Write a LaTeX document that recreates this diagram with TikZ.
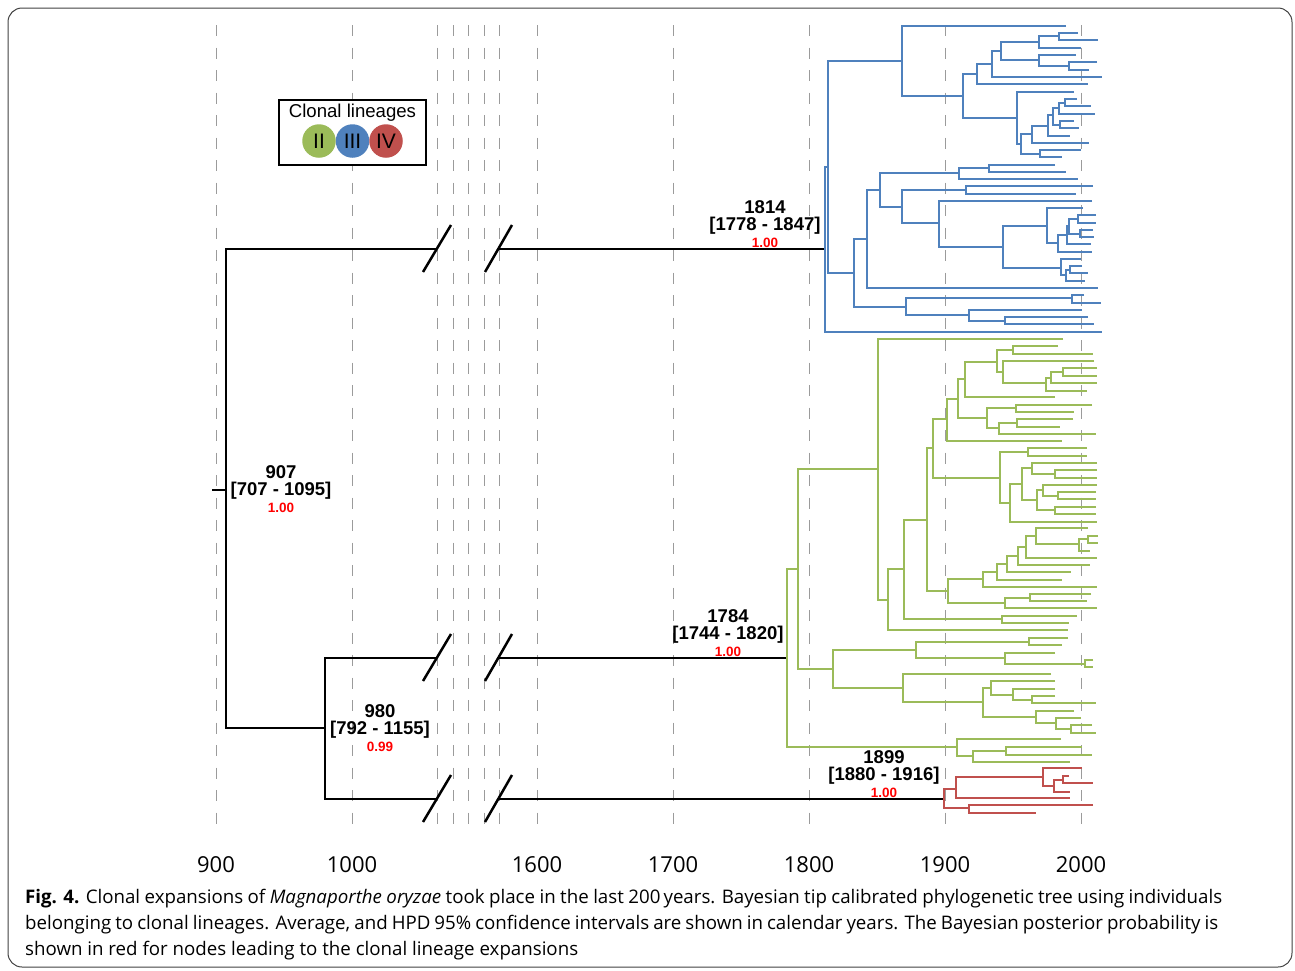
\documentclass[tikz,border=0pt]{standalone}
\usepackage{fontspec}
\setmainfont{Open Sans}
\newfontfamily\treefont{Liberation Sans}

\definecolor{lineageII}{RGB}{155,187,89}
\definecolor{lineageIII}{RGB}{79,129,189}
\definecolor{lineageIV}{RGB}{192,80,77}
\definecolor{gridgray}{RGB}{155,155,155}

% one split of the tree: node x, upper child (y, x), lower child (y, x)
\newcommand{\clade}[5]{\draw (#3,#2) -| (#1,#4) -- (#5,#4);}

\begin{document}
\begin{tikzpicture}[x=1pt, y=-1pt,
  gridline/.style={gridgray, line width=1pt, dash pattern=on 11pt off 11.5pt},
  backbone/.style={line width=2.5pt},
  lineage/.style={line width=2.8pt},
  datelbl/.style={font=\treefont\bfseries\fontsize{18.5}{20}\selectfont, inner sep=0pt},
  problbl/.style={font=\treefont\bfseries\fontsize{13.5}{14}\selectfont, text=red, inner sep=0pt},
  yearlbl/.style={font=\fontsize{22}{24}\selectfont, anchor=base, inner sep=0pt},
  captionline/.style={font=\fontsize{18.7}{20}\selectfont, anchor=base west, inner sep=0pt},
  lincircle/.style={circle, minimum size=33.5pt, inner sep=0pt, font=\treefont\fontsize{21}{22}\selectfont}]

\useasboundingbox (0,0) rectangle (1295,970);

% Frame
\draw[rounded corners=14pt, line width=1pt, black!75] (8,8) rectangle (1292,967);

% Dashed year lines
\foreach \x in {216,352,437,453,468,484,499,537,673,809,945,1081}
  \draw[gridline] (\x,25) -- (\x,824);

% Year labels
\foreach \yr/\x in {900/216,1000/352,1600/537,1700/673,1800/809,1900/945,2000/1081}
  \node[yearlbl] (yr\yr) at (\x,872) {\yr};

% Legend
\node[draw, line width=1.5pt, fill=white, minimum width=147pt, minimum height=65pt, inner sep=0pt] (legend) at (352.5,132.5) {};
\node[font=\treefont\fontsize{18.6}{19}\selectfont, inner sep=0pt] (legendtitle) at (352.5,113) {Clonal lineages};
\node[lincircle, fill=lineageII] (cII) at (319,141) {II};
\node[lincircle, fill=lineageIII] (cIII) at (352.5,141) {III};
\node[lincircle, fill=lineageIV] (cIV) at (386,141) {IV};

% Backbone
\coordinate (n907) at (226,490);
\coordinate (n980) at (325,728);
\draw[backbone] (212,490) -- (n907);
\draw[backbone] (436.5,249) -| (n980 -| n907) -- (n980);
\draw[backbone] (436.5,658) -| (325,799) -- (436.5,799);
\draw[backbone] (498.5,249) -- (825,249);
\draw[backbone] (498.5,658) -- (787,658);
\draw[backbone] (498.5,799) -- (944,799);

% Axis breaks
\foreach \y in {249,658,799} {
  \draw[backbone] ({423},{\y+23}) -- ({451},{\y-24});
  \draw[backbone] ({485},{\y+23}) -- ({512},{\y-24});
}

% Node dates
\node[datelbl] (d907) at (281,472) {907};
\node[datelbl] (h907) at (281,491) {[707 - 1095]};
\node[problbl] (p907) at (281,508) {1.00};
\node[datelbl] (d980) at (380,711) {980};
\node[datelbl] (h980) at (380,730) {[792 - 1155]};
\node[problbl] (p980) at (380,747) {0.99};
\node[datelbl] (d1814) at (765,207) {1814};
\node[datelbl] (h1814) at (765,226) {[1778 - 1847]};
\node[problbl] (p1814) at (765,243) {1.00};
\node[datelbl] (d1784) at (728,616) {1784};
\node[datelbl] (h1784) at (728,635) {[1744 - 1820]};
\node[problbl] (p1784) at (728,652) {1.00};
\node[datelbl] (d1899) at (884,757) {1899};
\node[datelbl] (h1899) at (884,776) {[1880 - 1916]};
\node[problbl] (p1899) at (884,793) {1.00};

% Lineage III
\begin{scope}[lineage, lineageIII]
\clade{825}{167}{828}{332}{1102}
\clade{828}{61}{902}{273}{854}
\clade{902}{26}{1066}{96}{963}
\clade{963}{74}{977}{118}{1017}
\clade{977}{64}{992}{84}{1088}
\clade{992}{51}{1001}{77}{1102}
\clade{1001}{42}{1039}{60}{1039}
\clade{1039}{36}{1059}{48}{1081}
\clade{1059}{33}{1078}{40}{1098}
\clade{1039}{55}{1076}{66}{1069}
\clade{1069}{62}{1097}{70}{1089}
\clade{1017}{92}{1074}{144}{1021}
\clade{1021}{134}{1032}{154}{1040}
\clade{1040}{150}{1081}{157}{1062}
\clade{1032}{126}{1048}{143}{1089}
\clade{1048}{115}{1053}{136}{1070}
\clade{1053}{108}{1059}{125}{1060}
\clade{1059}{103}{1065}{114}{1095}
\clade{1065}{99}{1077}{106}{1091}
\clade{1060}{121}{1074}{128}{1079}
\clade{854}{239}{867}{307}{906}
\clade{867}{190}{880}{288}{1098}
\clade{880}{173}{959}{207}{902}
\clade{959}{168}{989}{179}{1078}
\clade{989}{165}{1055}{172}{1066}
\clade{902}{190}{966}{223}{939}
\clade{966}{186}{1093}{194}{1076}
\clade{939}{201}{1092}{247}{1003}
\clade{1003}{226}{1047}{268}{1061}
\clade{1047}{208}{1083}{243}{1058}
\clade{1058}{235}{1067}{252}{1092}
\clade{1067}{226}{1069}{244}{1091}
\clade{1069}{219}{1078}{234}{1080}
\clade{1078}{215}{1096}{223}{1096}
\clade{1080}{230}{1093}{237}{1094}
\clade{1061}{259}{1081}{275}{1066}
\clade{1066}{270}{1070}{281}{1085}
\clade{1070}{266}{1082}{273}{1088}
\clade{906}{298}{1072}{315}{969}
\clade{1072}{295}{1084}{303}{1101}
\clade{969}{310}{1082}{321}{1005}
\clade{1005}{317}{1088}{324}{1094}
\end{scope}

% Lineage II
\begin{scope}[lineage, lineageII]
\clade{787}{569}{798}{747}{957}
\clade{798}{469}{878}{669}{833}
\clade{878}{339}{1063}{600}{888}
\clade{888}{569}{904}{630}{1068}
\clade{904}{520}{927}{619}{1002}
\clade{1002}{616}{1077}{623}{1069}
\clade{927}{448}{933}{591}{948}
\clade{933}{419}{947}{478}{1000}
\clade{947}{399}{958}{441}{1062}
\clade{958}{379}{965}{418}{987}
\clade{965}{362}{997}{397}{1055}
\clade{997}{350}{1013}{372}{1003}
\clade{1013}{346}{1058}{354}{1093}
\clade{1003}{361}{1094}{383}{1046}
\clade{1046}{378}{1051}{391}{1087}
\clade{1051}{372}{1063}{383}{1097}
\clade{1063}{368}{1097}{376}{1097}
\clade{987}{408}{1016}{428}{999}
\clade{1016}{405}{1092}{412}{1074}
\clade{999}{423}{1017}{434}{1096}
\clade{1017}{419}{1073}{427}{1060}
\clade{1000}{452}{1028}{503}{1010}
\clade{1028}{448}{1087}{456}{1087}
\clade{1010}{484}{1022}{522}{1097}
\clade{1022}{468}{1032}{500}{1037}
\clade{1032}{463}{1097}{474}{1055}
\clade{1055}{470}{1097}{478}{1097}
\clade{1037}{490}{1043}{510}{1055}
\clade{1043}{485}{1097}{496}{1058}
\clade{1058}{492}{1096}{499}{1096}
\clade{1055}{507}{1096}{514}{1096}
\clade{948}{579}{983}{603}{1005}
\clade{983}{572}{997}{587}{1097}
\clade{997}{564}{1007}{580}{1062}
\clade{1007}{556}{1018}{572}{1071}
\clade{1018}{547}{1026}{565}{1090}
\clade{1026}{536}{1036}{558}{1097}
\clade{1036}{528}{1088}{544}{1079}
\clade{1079}{539}{1088}{551}{1090}
\clade{1088}{536}{1098}{543}{1098}
\clade{1005}{598}{1030}{608}{1097}
\clade{1030}{594}{1091}{601}{1087}
\clade{833}{650}{916}{688}{903}
\clade{916}{642}{1029}{658}{1005}
\clade{1029}{638}{1068}{645}{1062}
\clade{1005}{653}{1055}{664}{1085}
\clade{1085}{660}{1093}{667}{1093}
\clade{903}{674}{1051}{702}{983}
\clade{983}{688}{991}{717}{1036}
\clade{991}{681}{1055}{695}{1013}
\clade{1013}{689}{1055}{700}{1032}
\clade{1032}{696}{1055}{703}{1096}
\clade{1036}{711}{1074}{723}{1056}
\clade{1056}{718}{1081}{729}{1071}
\clade{1071}{725}{1092}{733}{1096}
\clade{957}{739}{1061}{756}{973}
\clade{973}{751}{1006}{762}{1070}
\clade{1006}{747}{1082}{755}{1092}
\end{scope}

% Lineage IV
\begin{scope}[lineage, lineageIV]
\clade{944}{789}{956}{808}{969}
\clade{956}{777}{1043}{798}{1070}
\clade{1043}{768}{1082}{786}{1054}
\clade{1054}{780}{1063}{792}{1070}
\clade{1063}{776}{1069}{783}{1093}
\clade{969}{805}{1093}{813}{1036}
\end{scope}

% Caption
\node[captionline] (cap1) at (25,903) {\makebox[1197pt][s]{\textbf{Fig. 4.} Clonal expansions of \textit{Magnaporthe oryzae} took place in the last 200\,years. Bayesian tip calibrated phylogenetic tree using individuals}};
\node[captionline] (cap2) at (25,929) {\makebox[1193pt][s]{belonging to clonal lineages. Average, and HPD 95\% confidence intervals are shown in calendar years. The Bayesian posterior probability is}};
\node[captionline] (cap3) at (25,955) {shown in red for nodes leading to the clonal lineage expansions};
\end{tikzpicture}
\end{document}
